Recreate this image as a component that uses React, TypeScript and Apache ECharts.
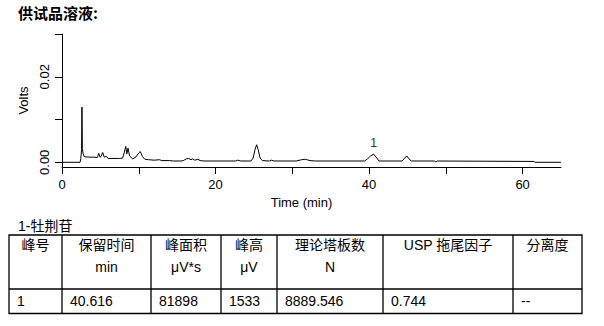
import { useEffect, useRef } from "react";
import * as echarts from "echarts";

const sampleTitle = "供试品溶液:";
const xAxisName = "Time (min)";
const yAxisName = "Volts";

const timeMin = [
  0, 2.35, 2.45, 2.55, 2.6, 2.65, 2.75, 2.9, 3.5, 4.2, 4.6, 4.8, 4.95, 5.1, 5.3, 5.5, 5.8, 6.0,
  6.5, 7.5, 7.9, 8.1, 8.3, 8.45, 8.6, 8.8, 9.2, 9.6, 10.0, 10.2, 10.5, 10.8, 11.3, 12.0, 12.7,
  13.0, 14.0, 14.5, 15.5, 15.8, 16.2, 16.5, 16.8, 17.0, 17.3, 17.7, 18.0, 18.5, 19.5, 22.0,
  22.6, 22.9, 23.3, 24.6, 24.9, 25.15, 25.35, 25.55, 25.8, 26.1, 27.0, 27.3, 27.6, 30.5, 31.2,
  31.7, 32.3, 33.0, 39.4, 39.8, 40.2, 40.6, 41.0, 41.3, 44.3, 44.6, 44.9, 45.2, 45.5, 48.5,
  48.7, 48.9, 61.5, 61.6, 65,
];
const volts = [
  0, 0, 0.0008, 0.003, 0.0129, 0.0032, 0.002, 0.0013, 0.0012, 0.0012, 0.0011, 0.0021, 0.0012,
  0.0014, 0.0023, 0.0012, 0.0014, 0.0009, 0.0009, 0.0009, 0.001, 0.0022, 0.0037, 0.002, 0.0033,
  0.0015, 0.0008, 0.0012, 0.0022, 0.0025, 0.0013, 0.0007, 0.0006, 0.0005, 0.0006, 0.0004,
  0.0004, 0.0003, 0.0003, 0.0004, 0.0008, 0.0009, 0.0006, 0.0008, 0.0005, 0.0007, 0.0004,
  0.0003, 0.0003, 0.0003, 0.0003, 0.0005, 0.0003, 0.0003, 0.001, 0.003, 0.0041, 0.003, 0.001,
  0.0004, 0.0003, 0.0005, 0.0003, 0.0003, 0.0006, 0.0007, 0.0004, 0.0003, 0.0003, 0.0008,
  0.0015, 0.0019, 0.001, 0.0003, 0.0003, 0.0009, 0.0015, 0.0008, 0.0003, 0.0003, 0.0001,
  0.0003, 0.0002, 0, 0,
];

const xTicks = [0, 10, 20, 30, 40, 50, 60];
const xLabels = [0, 20, 40, 60];
const yTicks = [0, 0.01, 0.02, 0.03];
const yLabels = [0, 0.02];

const peakNames = ["1"];
const peakTimes = [40.6];
const peakVolts = [0.0019];

const tableCaption = "1-牡荆苷";
const headerRow1 = ["峰号", "保留时间", "峰面积", "峰高", "理论塔板数", "USP 拖尾因子", "分离度"];
const headerRow2 = ["", "min", "μV*s", "μV", "N", "", ""];
const dataRow = ["1", "40.616", "81898", "1533", "8889.546", "0.744", "--"];

const FONT = "'Liberation Sans', Arial, 'Noto Sans CJK SC', sans-serif";

export default function App() {
  const ref = useRef<HTMLDivElement>(null);

  useEffect(() => {
    if (!ref.current) return;
    const chart = echarts.init(ref.current, undefined, { renderer: "svg" });

    const colX = [9, 62, 151, 221, 277, 383, 513, 582];
    const tTop = 235;
    const tMid = 289;
    const tBot = 313.5;
    const lw = 1.3;

    const graphics: any[] = [];
    graphics.push({
      type: "text",
      left: 18,
      top: 5,
      style: {
        text: sampleTitle,
        fill: "#000",
        fontSize: 15,
        fontWeight: "bold",
        fontFamily: "'Noto Sans CJK SC', sans-serif",
      },
    });
    graphics.push({
      type: "text",
      style: {
        text: tableCaption,
        x: 18,
        y: 226,
        textVerticalAlign: "middle",
        fill: "#000",
        fontSize: 14,
        fontFamily: FONT,
      },
    });
    graphics.push({
      type: "rect",
      shape: { x: colX[0], y: tTop, width: colX[colX.length - 1] - colX[0], height: tBot - tTop },
      style: { fill: "none", stroke: "#000", lineWidth: lw },
    });
    graphics.push({
      type: "line",
      shape: { x1: colX[0], y1: tMid, x2: colX[colX.length - 1], y2: tMid },
      style: { stroke: "#000", lineWidth: lw },
    });
    for (let i = 1; i < colX.length - 1; i++) {
      graphics.push({
        type: "line",
        shape: { x1: colX[i], y1: tTop, x2: colX[i], y2: tBot },
        style: { stroke: "#000", lineWidth: lw },
      });
    }
    for (let i = 0; i < headerRow1.length; i++) {
      const cx = (colX[i] + colX[i + 1]) / 2;
      graphics.push({
        type: "text",
        style: {
          text: headerRow1[i],
          x: cx,
          y: 245,
          textAlign: "center",
          textVerticalAlign: "middle",
          fill: "#000",
          fontSize: 14,
          fontFamily: FONT,
        },
      });
      if (headerRow2[i]) {
        graphics.push({
          type: "text",
          style: {
            text: headerRow2[i],
            x: cx,
            y: 267,
            textAlign: "center",
            textVerticalAlign: "middle",
            fill: "#000",
            fontSize: 14,
            fontFamily: FONT,
          },
        });
      }
      graphics.push({
        type: "text",
        style: {
          text: dataRow[i],
          x: colX[i] + 8,
          y: 301,
          textAlign: "left",
          textVerticalAlign: "middle",
          fill: "#000",
          fontSize: 14,
          fontFamily: FONT,
        },
      });
    }

    const axisLineStyle = { color: "#000", width: 1 };

    chart.setOption({
      animation: false,
      backgroundColor: "#fff",
      grid: { left: 62, right: 43, top: 34, bottom: 159, containLabel: false },
      xAxis: {
        type: "value",
        min: 0,
        max: 65,
        name: xAxisName,
        nameLocation: "middle",
        nameGap: 29,
        nameTextStyle: { color: "#000", fontSize: 13, fontFamily: FONT, padding: [0, 20, 0, 0] },
        axisLine: { show: true, onZero: false, lineStyle: axisLineStyle },
        axisTick: { show: true, length: 7, customValues: xTicks, lineStyle: axisLineStyle },
        axisLabel: {
          customValues: xLabels,
          margin: 11,
          color: "#000",
          fontSize: 13,
          fontFamily: FONT,
        },
        splitLine: { show: false },
      },
      yAxis: {
        type: "value",
        min: -0.0011,
        max: 0.03,
        name: yAxisName,
        nameLocation: "middle",
        nameGap: 27,
        nameRotate: 90,
        nameTextStyle: { color: "#000", fontSize: 13, fontFamily: FONT },
        axisLine: { show: true, onZero: false, lineStyle: axisLineStyle },
        axisTick: { show: true, length: 7, customValues: yTicks, lineStyle: axisLineStyle },
        axisLabel: {
          customValues: yLabels,
          rotate: 90,
          margin: 11,
          color: "#000",
          fontSize: 13,
          fontFamily: FONT,
          formatter: (v: number) => v.toFixed(2),
        },
        splitLine: { show: false },
      },
      series: [
        {
          type: "line",
          data: timeMin.map((t, i) => [t, volts[i]]),
          showSymbol: false,
          symbol: "none",
          lineStyle: { color: "#000", width: 1 },
          silent: true,
        },
        {
          type: "scatter",
          data: peakTimes.map((t, i) => ({ value: [t, peakVolts[i]], name: peakNames[i] })),
          symbolSize: 0,
          silent: true,
          label: {
            show: true,
            position: "top",
            distance: 5,
            formatter: (p: any) => p.name,
            color: "#000",
            fontSize: 13,
            fontFamily: FONT,
          },
        },
      ],
      graphic: graphics,
    });

    return () => chart.dispose();
  }, []);

  return (
    <div
      ref={ref}
      style={{ position: "fixed", left: 0, top: 0, width: 604, height: 326, background: "#fff" }}
    />
  );
}
